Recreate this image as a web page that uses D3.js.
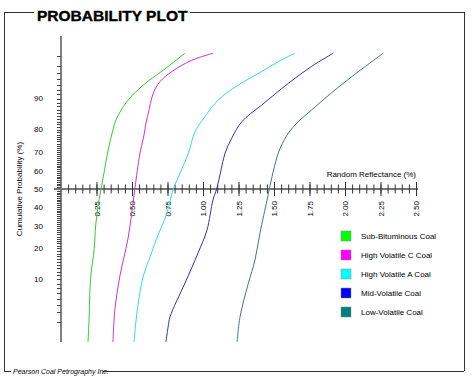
<!DOCTYPE html>
<html lang="en">
  <head>
    <meta charset="UTF-8" />
    <title>Probability Plot</title>
    <style>
      body { margin: 0; background: #fff; }
      svg { display: block; font-family: Arial, "Liberation Sans", sans-serif; }
    </style>
  </head>
  <body>
    <script src="https://d3js.org/d3.v7.min.js"></script>
    <script>

    // series names + legend colours
    var coalNames = ["Sub-Bituminous Coal", "High Volatile C Coal", "High Volatile A Coal", "Mid-Volatile Coal", "Low-Volatile Coal"];
    var coalColors = ["#00ff00", "#ff00ff", "#00ffff", "#0000ff", "#008080"];
    var lineColors = ["#33cc33", "#cc33cc", "#33dddd", "#3333aa", "#3a7a7a"];

    // [random reflectance %, cumulative probability %]
    var subBituminous = [[0.19, 1.5], [0.197, 3], [0.208, 10], [0.234, 20], [0.244, 30], [0.26, 40], [0.282, 50], [0.305, 60],
      [0.329, 70], [0.366, 80], [0.387, 83.6], [0.463, 89.2], [0.58, 93], [0.72, 95.4], [0.873, 97.3]];
    var highVolC = [[0.366, 1.5], [0.38, 4.5], [0.415, 10.9], [0.47, 23.5], [0.498, 36.5], [0.52, 50], [0.556, 69.4], [0.58, 76.4],
      [0.603, 83.6], [0.615, 85.9], [0.65, 91.3], [0.697, 93.6], [0.78, 95.2], [0.92, 96.6], [1.073, 97.3]];
    var highVolA = [[0.514, 1.5], [0.54, 4.75], [0.58, 10.9], [0.627, 16.7], [0.67, 23.5], [0.746, 36.7], [0.791, 50], [0.845, 60],
      [0.897, 69.4], [0.944, 79.2], [1.014, 84.8], [1.108, 89.7], [1.249, 93], [1.413, 95.2], [1.53, 96.45], [1.648, 97.3]];
    var midVol = [[0.739, 1.5], [0.754, 2.5], [0.768, 3.5], [0.873, 9.1], [0.965, 18.2], [1.028, 28], [1.07, 43.8], [1.096, 50],
      [1.127, 60.6], [1.155, 69.4], [1.202, 76.4], [1.273, 83], [1.413, 88.3], [1.601, 93.3], [1.765, 95.9], [1.918, 97.3]];
    var lowVol = [[1.24, 1.5], [1.261, 3.5], [1.319, 9], [1.366, 15.7], [1.401, 26.5], [1.451, 43.8], [1.467, 50], [1.53, 69.4],
      [1.589, 77.5], [1.648, 81.8], [1.765, 86.9], [1.93, 92], [2.094, 95.2], [2.27, 97.3]];
    var allSeries = [subBituminous, highVolC, highVolA, midVol, lowVol];

    // axis ticks
    var xLabelTicks = [0.25, 0.5, 0.75, 1, 1.25, 1.5, 1.75, 2, 2.25, 2.5];
    var xMinorTicks = d3.range(1, 51).map(function(i) { return i * 0.05; });
    var yLabelTicks = [10, 20, 30, 40, 50, 60, 70, 80, 90];
    var yMinorTicks = d3.range(3, 98);

    var w = 476;
    var h = 377;

    // inverse normal cdf (Acklam) for the probability axis
    function qnorm(p) {
      var a = [-3.969683028665376e+01, 2.209460984245205e+02, -2.759285104469687e+02, 1.383577518672690e+02, -3.066479806614716e+01, 2.506628277459239e+00];
      var b = [-5.447609879822406e+01, 1.615858368580409e+02, -1.556989798598866e+02, 6.680131188771972e+01, -1.328068155288572e+01];
      var c = [-7.784894002430293e-03, -3.223964580411365e-01, -2.400758277161838e+00, -2.549732539343734e+00, 4.374664141464968e+00, 2.938163982698783e+00];
      var d = [7.784695709041462e-03, 3.224671290700398e-01, 2.445134137142996e+00, 3.754408661907416e+00];
      var plow = 0.02425, q, r;
      if (p < plow) {
        q = Math.sqrt(-2 * Math.log(p));
        return (((((c[0]*q+c[1])*q+c[2])*q+c[3])*q+c[4])*q+c[5]) / ((((d[0]*q+d[1])*q+d[2])*q+d[3])*q+1);
      }
      if (p > 1 - plow) {
        q = Math.sqrt(-2 * Math.log(1 - p));
        return -(((((c[0]*q+c[1])*q+c[2])*q+c[3])*q+c[4])*q+c[5]) / ((((d[0]*q+d[1])*q+d[2])*q+d[3])*q+1);
      }
      q = p - 0.5; r = q * q;
      return (((((a[0]*r+a[1])*r+a[2])*r+a[3])*r+a[4])*r+a[5])*q / (((((b[0]*r+b[1])*r+b[2])*r+b[3])*r+b[4])*r+1);
    }

    var svg = d3.select("body")
                .append("svg")
                .attr("width", w)
                .attr("height", h);

    var xScale = d3.scaleLinear()
                   .domain([0, 2.5])
                   .range([61, 416]);

    var zScale = d3.scaleLinear()
                   .domain([-2.17, 2.17])
                   .range([342, 36]);

    function yScale(p) { return zScale(qnorm(p / 100)); }

    // outer frame with gaps for the title and footnote
    var frame = svg.append("g").attr("stroke", "#333").attr("stroke-width", 1).attr("shape-rendering", "crispEdges");
    frame.append("line").attr("x1", 4).attr("y1", 12).attr("x2", 34).attr("y2", 12);
    frame.append("line").attr("x1", 190).attr("y1", 12).attr("x2", 464).attr("y2", 12);
    frame.append("line").attr("x1", 4).attr("y1", 12).attr("x2", 4).attr("y2", 371);
    frame.append("line").attr("x1", 464).attr("y1", 12).attr("x2", 464).attr("y2", 371);
    frame.append("line").attr("x1", 4).attr("y1", 371).attr("x2", 11).attr("y2", 371);
    frame.append("line").attr("x1", 103).attr("y1", 371).attr("x2", 464).attr("y2", 371);

    svg.append("text")
       .attr("x", 37)
       .attr("y", 20.5)
       .attr("font-size", "15.5px")
       .attr("font-weight", "bold")
       .attr("fill", "#000")
       .attr("stroke", "#000")
       .attr("stroke-width", 0.4)
       .text("PROBABILITY PLOT");

    svg.append("text")
       .attr("x", 13)
       .attr("y", 373.5)
       .attr("font-size", "7px")
       .attr("font-style", "italic")
       .text("Pearson Coal Petrography Inc.");

    // y axis (probability)
    var yAxis = svg.append("g").attr("class", "y-axis");
    yAxis.append("line")
         .attr("x1", 61).attr("x2", 61)
         .attr("y1", zScale.range()[1]).attr("y2", zScale.range()[0])
         .attr("stroke", "#555").attr("stroke-width", 1.5);
    yAxis.selectAll(".ytick")
         .data(yMinorTicks)
         .enter()
         .append("line")
         .attr("class", "ytick")
         .attr("x1", 57).attr("x2", 61)
         .attr("y1", function(d) { return Math.round(yScale(d)) + 0.5; })
         .attr("y2", function(d) { return Math.round(yScale(d)) + 0.5; })
         .attr("stroke", "#444").attr("stroke-width", 1);
    yAxis.selectAll(".ylabel")
         .data(yLabelTicks)
         .enter()
         .append("text")
         .attr("class", "ylabel")
         .attr("x", 43)
         .attr("y", function(d) { return yScale(d); })
         .attr("dy", "0.35em")
         .attr("text-anchor", "end")
         .attr("font-size", "8px")
         .text(function(d) { return d; });

    svg.append("text")
       .attr("transform", "translate(22,189) rotate(-90)")
       .attr("text-anchor", "middle")
       .attr("font-size", "8px")
       .text("Cumulative Probability (%)");

    // x axis crossing at 50%
    var xAxisY = yScale(50);
    svg.append("line")
       .attr("x1", 54).attr("x2", 418)
       .attr("y1", xAxisY).attr("y2", xAxisY)
       .attr("stroke", "#777").attr("stroke-width", 2);

    var xMinor = d3.axisBottom(xScale).tickValues(xMinorTicks).tickSize(4.5).tickFormat("");
    var gMinor = svg.append("g")
                    .attr("transform", "translate(0," + xAxisY + ")")
                    .call(xMinor);
    gMinor.select(".domain").remove();
    gMinor.selectAll(".tick line").attr("y1", -4.5).attr("stroke", "#333");

    var xMajor = d3.axisBottom(xScale)
                   .tickValues(xLabelTicks)
                   .tickSize(7)
                   .tickFormat(d3.format(".2f"));
    var gMajor = svg.append("g")
                    .attr("class", "x-axis")
                    .attr("transform", "translate(0," + xAxisY + ")")
                    .call(xMajor);
    gMajor.select(".domain").remove();
    gMajor.selectAll(".tick line").attr("y1", -7).attr("stroke", "#333");
    gMajor.selectAll(".tick text")
          .attr("font-family", null)
          .attr("font-size", "8px")
          .attr("fill", "#000")
          .attr("transform", "rotate(-90)")
          .attr("text-anchor", "end")
          .attr("x", -12)
          .attr("y", 0)
          .attr("dy", "0.35em");

    svg.append("text")
       .attr("x", 416)
       .attr("y", 177)
       .attr("text-anchor", "end")
       .attr("font-size", "8px")
       .text("Random Reflectance (%)");

    // curves
    var line = d3.line()
                 .x(function(d) { return xScale(d[0]); })
                 .y(function(d) { return yScale(d[1]); })
                 .curve(d3.curveCatmullRom);

    svg.selectAll(".curve")
       .data(allSeries)
       .enter()
       .append("path")
       .attr("class", "curve")
       .attr("d", line)
       .attr("fill", "none")
       .attr("stroke", function(d, i) { return lineColors[i]; })
       .attr("stroke-width", 1);

    // legend
    var legend = svg.selectAll(".legend")
                    .data(coalNames)
                    .enter()
                    .append("g")
                    .attr("class", "legend")
                    .attr("transform", function(d, i) { return "translate(341," + (231 + i * 19) + ")"; });
    legend.append("rect")
          .attr("width", 10).attr("height", 10)
          .attr("fill", function(d, i) { return coalColors[i]; })
          .attr("stroke", "#888").attr("stroke-width", 0.5);
    legend.append("text")
          .attr("x", 20)
          .attr("y", 5)
          .attr("dy", "0.35em")
          .attr("font-size", "8px")
          .text(function(d) { return d; });

    </script>
  </body>
</html>
